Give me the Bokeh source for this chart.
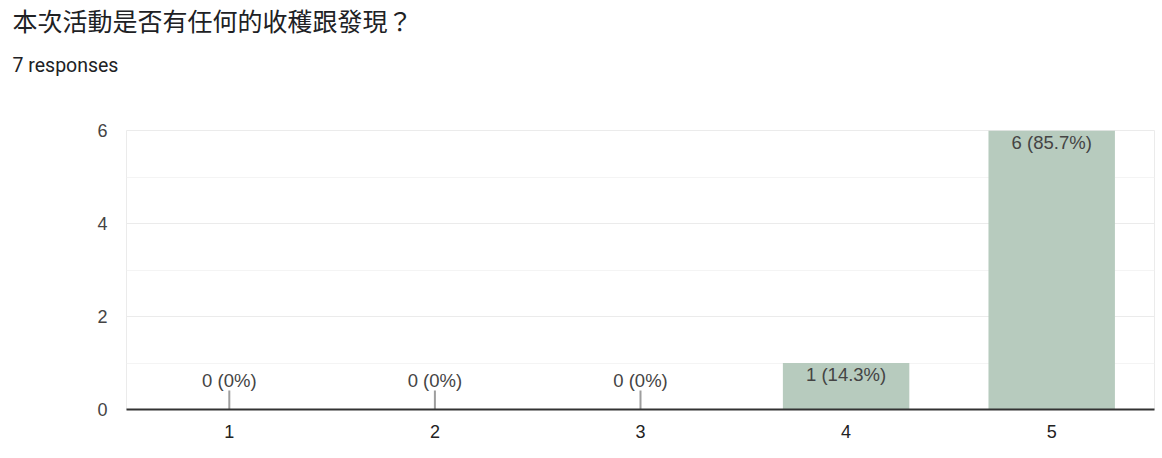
from bokeh.plotting import figure
from bokeh.models import ColumnDataSource, Range1d, FactorRange, FixedTicker, Title
from bokeh.embed import file_html
from bokeh.resources import INLINE
from bokeh.core.properties import value

title_text = "本次活動是否有任何的收穫跟發現？"
subtitle_text = "7 responses"
categories = ["1", "2", "3", "4", "5"]
counts = [0, 0, 0, 1, 6]
y_ticks = [0, 2, 4, 6]

total = sum(counts)


def fmt(c):
    pct = round(c * 100 / total, 1)
    s = f"{pct:.1f}".rstrip("0").rstrip(".")
    return f"{c} ({s}%)"


labels = [fmt(c) for c in counts]

UNIT_PX = 46.5
STUB = 19 / UNIT_PX

nz = [i for i, c in enumerate(counts) if c > 0]
zz = [i for i, c in enumerate(counts) if c == 0]

bars = ColumnDataSource(dict(cat=categories, count=counts))
nz_src = ColumnDataSource(dict(cat=[categories[i] for i in nz],
                               count=[counts[i] for i in nz],
                               label=[labels[i] for i in nz]))
zz_src = ColumnDataSource(dict(cat=[categories[i] for i in zz],
                               count=[counts[i] for i in zz],
                               top=[counts[i] + STUB for i in zz],
                               label=[labels[i] for i in zz]))

p = figure(width=1158, height=452,
           x_range=FactorRange(*categories), y_range=Range1d(0, max(y_ticks)),
           output_backend="svg", toolbar_location=None,
           min_border_left=126, min_border_right=4,
           min_border_top=130, min_border_bottom=43)
p.title.visible = False

p.outline_line_color = "#ebebeb"
p.xgrid.grid_line_color = None
p.yaxis.ticker = FixedTicker(ticks=y_ticks, minor_ticks=[t + 1 for t in y_ticks[:-1]])
p.ygrid.grid_line_color = "#ebebeb"
p.ygrid.minor_grid_line_color = "#f4f4f4"

p.yaxis.axis_line_color = None
p.yaxis.major_tick_line_color = None
p.yaxis.minor_tick_line_color = None
p.yaxis.major_label_standoff = 13
p.yaxis.major_label_text_font_size = "18px"
p.yaxis.major_label_text_font = "Liberation Sans"
p.yaxis.major_label_text_color = "#444444"

p.xaxis.axis_line_color = "#333333"
p.xaxis.axis_line_width = 2
p.xaxis.major_tick_line_color = None
p.xaxis.minor_tick_line_color = None
p.xaxis.major_label_standoff = 9
p.xaxis.major_label_text_font_size = "18px"
p.xaxis.major_label_text_font = "Liberation Sans"
p.xaxis.major_label_text_color = "#222222"

p.vbar(x="cat", top="count", width=0.615, source=bars,
       fill_color="#b7cbbe", line_color=None)

p.segment(x0="cat", y0="count", x1="cat", y1="top", source=zz_src,
          line_color="#9e9e9e", line_width=2)

p.text(x="cat", y="count", text="label", source=nz_src,
       text_align="center", text_baseline="top", y_offset=1,
       text_font=value("Liberation Sans"), text_font_size="18.5px",
       text_color="#444444")
p.text(x="cat", y="count", text="label", source=zz_src,
       text_align="center", text_baseline="bottom", y_offset=-19,
       text_font=value("Liberation Sans"), text_font_size="18.5px",
       text_color="#444444")

# spacer between frame and subtitle, then subtitle, then title (stacked outward)
p.add_layout(Title(text=" ", text_font_size="10px", standoff=26,
                   vertical_align="middle"), "above")
p.add_layout(Title(text=subtitle_text, align="left", offset=-114,
                   vertical_align="middle", standoff=28,
                   text_font="Roboto", text_font_size="19.5px",
                   text_font_style="normal", text_color="#202124"), "above")
p.add_layout(Title(text=title_text, align="left", offset=-114,
                   vertical_align="middle", standoff=0,
                   text_font="Noto Sans CJK TC", text_font_size="25px",
                   text_font_style="normal", text_color="#202124"), "above")

open("out.html", "w").write(file_html(p, INLINE))
